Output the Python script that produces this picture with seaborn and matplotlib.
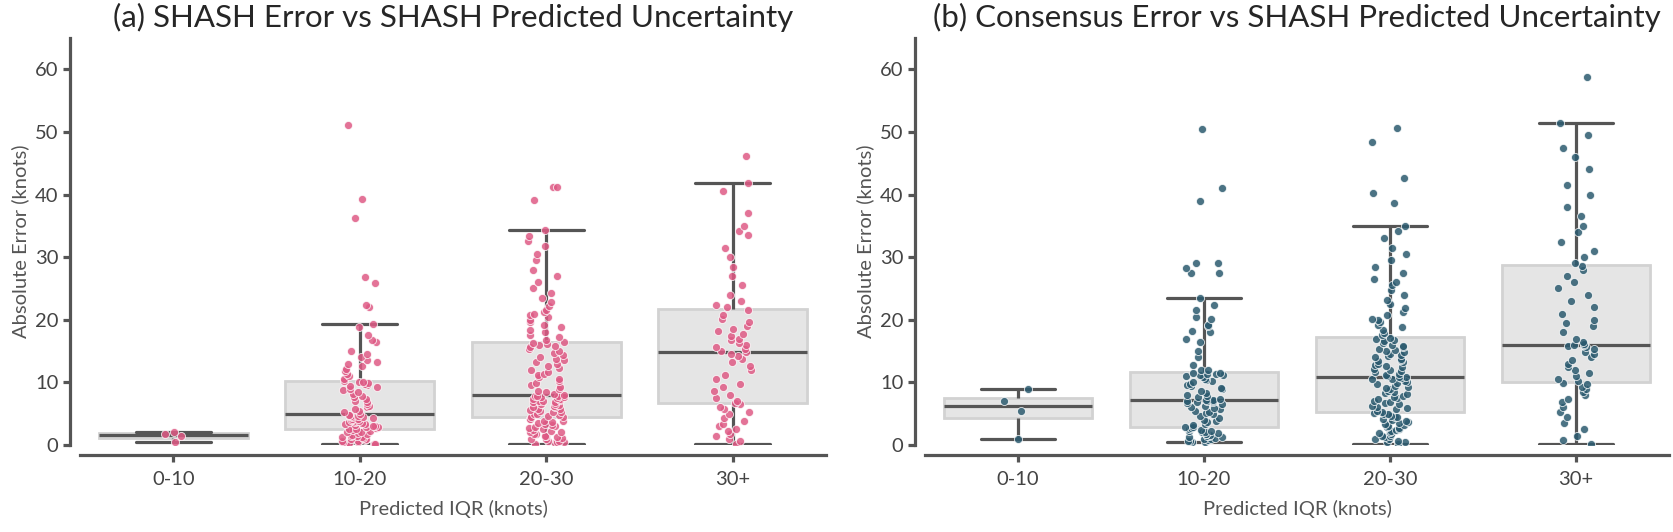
import numpy as np
import pandas as pd
import matplotlib.pyplot as plt
import seaborn as sns

# predicted IQR bins
bins = ['0-10', '10-20', '20-30', '30+']

# (a) SHASH absolute error per bin (knots)
shash_0_10 = [0.45, 1.4, 1.8, 2.1]
shash_10_20 = [0.1, 0.2, 0.3, 0.3, 0.4, 0.5, 0.6, 0.7, 0.8, 0.9, 1.0, 1.1, 1.2, 1.3, 1.4, 1.5,
               1.6, 1.8, 1.9, 2.0, 2.1, 2.2, 2.4, 2.5,
               2.6, 2.7, 2.8, 2.9, 3.0, 3.1, 3.2, 3.3, 3.4, 3.5, 3.6, 3.7, 3.8, 3.9, 4.0, 4.1,
               4.2, 4.3, 4.4, 4.5, 4.6, 4.7, 4.8, 4.85,
               4.95, 5.2, 5.5, 5.8, 6.0, 6.2, 6.5, 6.8, 7.0, 7.3, 7.6, 7.9, 8.2, 8.5, 8.8, 9.0,
               9.2, 9.4, 9.6, 9.8, 9.9, 10.0, 10.1, 10.2,
               10.6, 11.0, 11.3, 11.8, 12.2, 12.6, 12.9, 13.3, 13.6, 14.0, 14.5, 15.0, 16.4, 16.8,
               17.6, 18.9, 19.4, 22.0, 22.35, 25.9, 26.9, 36.2, 39.3, 51.1]
shash_20_30 = [0.2, 0.3, 0.4, 0.5, 0.6, 0.7, 0.9, 1.0, 1.1, 1.3, 1.4, 1.5, 1.7, 1.8, 2.0, 2.1,
               2.3, 2.4, 2.6, 2.7, 2.9, 3.0, 3.2, 3.3, 3.5, 3.6, 3.8, 3.9, 4.1, 4.2, 4.4,
               4.5, 4.6, 4.8, 4.9, 5.0, 5.2, 5.3, 5.4, 5.6, 5.7, 5.8, 6.0, 6.1, 6.2, 6.4, 6.5,
               6.6, 6.8, 6.9, 7.0, 7.1, 7.2, 7.3, 7.4, 7.5, 7.6, 7.7, 7.8, 7.85, 7.9, 8.0,
               8.1, 8.4, 8.7, 9.0, 9.3, 9.6, 9.9, 10.2, 10.5, 10.8, 11.1, 11.4, 11.7, 12.0, 12.3,
               12.6, 12.9, 13.2, 13.5, 13.8, 14.1, 14.4, 14.7, 15.0, 15.3, 15.6, 15.8, 16.0,
               16.1, 16.3, 16.4,
               16.8, 17.2, 17.6, 18.0, 18.4, 18.8, 19.2, 19.6, 20.0, 20.4, 20.8, 21.0, 21.2,
               21.6, 22.2, 22.8, 23.5, 24.2, 25.0, 26.0, 27.0, 28.0, 29.5, 30.5, 31.8, 32.6,
               33.4, 34.4, 39.1, 41.2, 41.2]
shash_30p = [0.2, 0.6, 1.0, 1.5, 1.8, 2.2, 2.6, 3.0, 3.4, 3.8, 4.3, 4.9, 5.3, 5.8, 6.1, 6.6,
             6.7, 7.0, 7.5, 8.0, 8.6, 9.2, 9.8, 10.5, 11.2, 12.0, 12.6, 13.2, 13.8, 14.2, 14.6, 14.8,
             15.0, 15.3, 15.6, 16.0, 16.3, 16.7, 17.0, 17.4, 17.8, 18.2, 18.6, 19.0, 19.6, 20.2,
             20.8, 21.6,
             22.0, 22.4, 23.0, 24.0, 25.5, 27.0, 28.5, 30.0, 31.5, 33.5, 34.2, 35.0, 37.0, 40.5,
             41.9, 46.2]

# (b) consensus absolute error per bin (knots)
cons_0_10 = [0.96, 5.44, 7.0, 9.0]
cons_10_20 = [0.48, 0.5, 0.6, 0.7, 0.8, 0.9, 1.0, 1.1, 1.2, 1.3, 1.4, 1.5, 1.6, 1.7, 1.8, 1.9,
              2.0, 2.1, 2.2, 2.3, 2.4, 2.5, 2.7, 2.8,
              2.95, 3.2, 3.4, 3.6, 3.8, 4.0, 4.3, 4.6, 4.9, 5.1, 5.3, 5.5, 5.7, 5.9, 6.1, 6.3,
              6.5, 6.7, 6.8, 6.9, 7.0, 7.05, 7.1, 7.15,
              7.25, 7.4, 7.6, 7.8, 8.0, 8.3, 8.6, 8.9, 9.1, 9.4, 9.6, 9.8, 10.0, 10.2, 10.4, 10.6,
              10.8, 11.0, 11.1, 11.2, 11.3, 11.4, 11.45, 11.5,
              11.9, 12.0, 12.8, 14.0, 15.0, 16.5, 17.0, 18.0, 18.2, 19.0, 19.2, 20.2, 20.5, 21.5,
              22.3, 23.5, 27.5, 27.5, 28.2, 29.0, 29.1, 39.0, 41.0, 50.5]
cons_20_30 = [0.2, 0.4, 0.5, 0.7, 0.9, 1.0, 1.2, 1.4, 1.5, 1.7, 1.9, 2.0, 2.2, 2.4, 2.5, 2.7,
              2.9, 3.0, 3.2, 3.4, 3.5, 3.7, 3.9, 4.0, 4.2, 4.4, 4.5, 4.7, 4.9, 5.0, 5.15,
              5.25, 5.5, 5.7, 5.9, 6.1, 6.3, 6.5, 6.7, 6.9, 7.1, 7.3, 7.5, 7.7, 7.9, 8.1, 8.3,
              8.5, 8.7, 8.9, 9.1, 9.3, 9.5, 9.7, 9.9, 10.1, 10.3, 10.5, 10.6, 10.7, 10.8, 10.85,
              10.95, 11.2, 11.4, 11.6, 11.8, 12.0, 12.2, 12.4, 12.6, 12.8, 13.0, 13.2, 13.4, 13.6,
              13.8, 14.0, 14.2, 14.4, 14.6, 14.8, 15.0, 15.2, 15.4, 15.6, 15.8, 16.0, 16.3, 16.6,
              16.8, 17.0, 17.1,
              17.5, 17.9, 18.3, 18.8, 19.2, 19.7, 20.0, 20.2, 20.7, 21.3, 21.9, 22.5, 23.2, 24.0,
              24.8, 25.6, 26.0, 26.5, 27.5, 28.5, 29.5, 30.5, 31.5, 33.0, 34.1, 35.0,
              38.7, 40.3, 42.7, 48.4, 50.7]
cons_30p = [0.2, 0.8, 1.5, 2.5, 3.5, 4.5, 5.3, 6.0, 6.8, 7.4, 8.0, 8.5, 8.9, 9.3, 9.7, 9.95,
            10.15, 10.5, 11.0, 11.5, 12.0, 12.5, 13.0, 13.5, 14.0, 14.5, 14.9, 15.3, 15.6, 15.8,
            15.9, 16.0,
            16.1, 16.4, 17.0, 18.0, 19.0, 19.5, 20.0, 21.0, 22.0, 23.0, 24.0, 25.0, 26.0, 27.0,
            28.0, 28.6,
            29.0, 30.0, 31.0, 32.5, 34.0, 35.0, 36.5, 38.0, 40.0, 41.5, 44.0, 46.0, 47.5, 49.5,
            51.5, 58.8]


def long_df(groups):
    rows = []
    for b, vals in zip(bins, groups):
        rows += [(b, v) for v in vals]
    return pd.DataFrame(rows, columns=['iqr', 'err'])


df_shash = long_df([shash_0_10, shash_10_20, shash_20_30, shash_30p])
df_cons = long_df([cons_0_10, cons_10_20, cons_20_30, cons_30p])

sns.set_style('ticks')
plt.rcParams['font.family'] = ['Lato', 'DejaVu Sans']

np.random.seed(3)  # jitter only
fig = plt.figure(figsize=(16.74, 5.32), dpi=100)
ax1 = fig.add_axes([80 / 1674, 87 / 532, 746 / 1674, 407 / 532])
ax2 = fig.add_axes([925 / 1674, 87 / 532, 744 / 1674, 407 / 532])

line_c = '#555555'


def panel(ax, df, color, title):
    sns.boxplot(data=df, x='iqr', y='err', order=bins, ax=ax, color='#e5e5e5',
                saturation=1, linecolor=line_c, linewidth=2.3, showfliers=False, width=0.8)
    for p in ax.patches:
        p.set_edgecolor('#d2d2d2')
        p.set_linewidth(2)
    sns.stripplot(data=df, x='iqr', y='err', order=bins, ax=ax, color=color, size=5.8,
                  jitter=0.1, alpha=0.85, edgecolor='white', linewidth=0.6, zorder=3)
    ax.set_xlim(-0.5, 3.5)
    ax.set_ylim(0, 65)
    ax.set_yticks([0, 10, 20, 30, 40, 50, 60])
    sns.despine(ax=ax, offset=7)
    for s in ['left', 'bottom']:
        ax.spines[s].set_linewidth(2.3)
        ax.spines[s].set_color(line_c)
    ax.tick_params(width=2.3, length=5, color=line_c, labelsize=14.5, labelcolor='#444444')
    ax.tick_params(axis='x', pad=7)
    ax.set_xlabel('Predicted IQR (knots)', fontsize=14.5, color='#555555', labelpad=8)
    ax.set_ylabel('Absolute Error (knots)', fontsize=14.5, color='#555555')
    ax.set_title(title, fontsize=22.5, pad=8)


panel(ax1, df_shash, '#de5a85', '(a) SHASH Error vs SHASH Predicted Uncertainty')
panel(ax2, df_cons, '#2b5a6f', '(b) Consensus Error vs SHASH Predicted Uncertainty')

fig.savefig('out.png', dpi=100)
